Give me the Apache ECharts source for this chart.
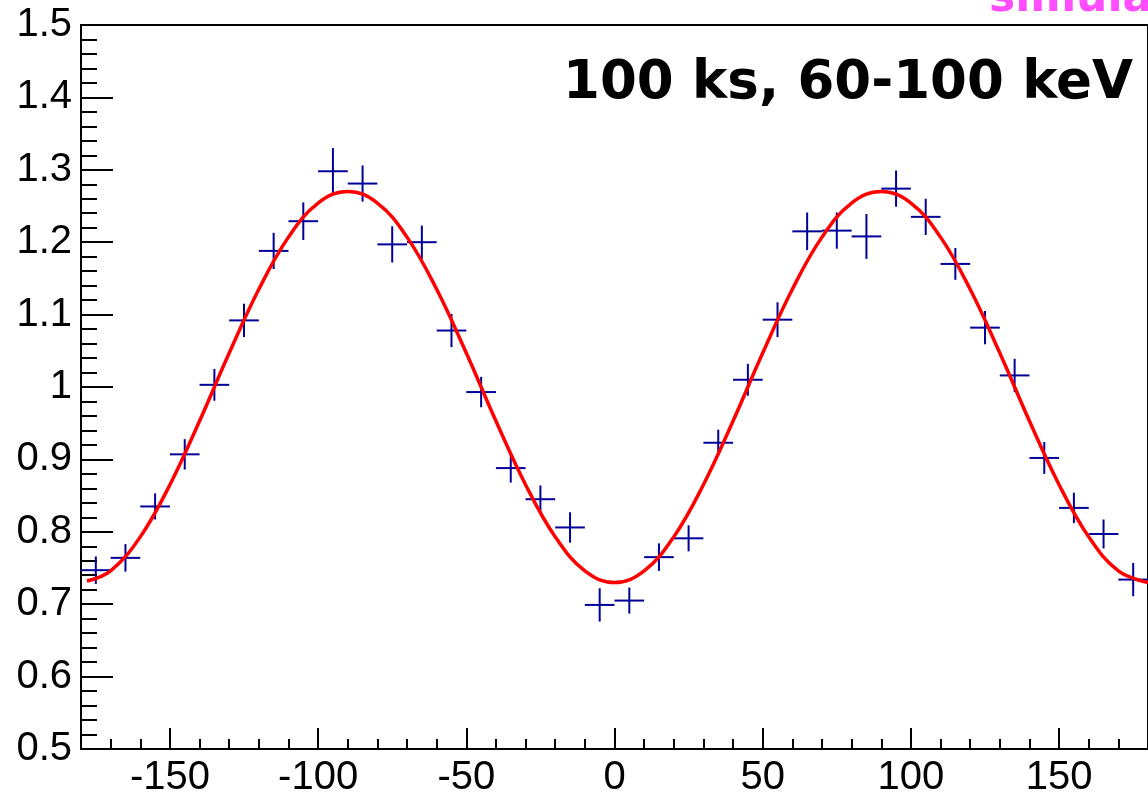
<!DOCTYPE html>
<html>
<head>
<meta charset="utf-8">
<script src="https://cdn.jsdelivr.net/npm/echarts@6/dist/echarts.min.js"></script>
<style>html,body{margin:0;padding:0;background:#fff;}#chart{width:1148px;height:798px;}</style>
</head>
<body>
<div id="chart"></div>
<script>
// Data points (bin centres, degrees), measured values and their errors
const binCenters = [-175,-165,-155,-145,-135,-125,-115,-105,-95,-85,-75,-65,-55,-45,-35,-25,-15,-5,5,15,25,35,45,55,65,75,85,95,105,115,125,135,145,155,165,175];
const values = [0.747,0.764,0.835,0.907,1.003,1.092,1.188,1.229,1.298,1.281,1.197,1.200,1.078,0.993,0.888,0.845,0.806,0.699,0.705,0.765,0.791,0.923,1.010,1.093,1.215,1.216,1.208,1.274,1.235,1.170,1.082,1.016,0.902,0.833,0.797,0.734];
const errors = [0.019,0.019,0.018,0.021,0.022,0.023,0.025,0.026,0.032,0.025,0.025,0.023,0.023,0.021,0.020,0.019,0.021,0.023,0.018,0.019,0.018,0.018,0.022,0.024,0.026,0.025,0.031,0.025,0.025,0.022,0.023,0.023,0.022,0.021,0.020,0.023];
const binHalfWidth = 5;
// Fit curve
const fitX = [-178,-170,-160,-150,-140,-130,-120,-110,-100,-90,-80,-70,-60,-50,-40,-30,-20,-10,0,10,20,30,40,50,60,70,80,90,100,110,120,130,140,150,160,170,180];
const fitY = [0.732,0.746,0.793,0.865,0.953,1.047,1.135,1.207,1.254,1.270,1.254,1.207,1.135,1.047,0.953,0.865,0.793,0.746,0.730,0.746,0.793,0.865,0.953,1.047,1.135,1.207,1.254,1.270,1.254,1.207,1.135,1.047,0.953,0.865,0.793,0.746,0.730];
// Axis ticks
const xMajorTicks = [-150,-100,-50,0,50,100,150];
const xMinorTicks = [-170,-160,-140,-130,-120,-110,-90,-80,-70,-60,-40,-30,-20,-10,10,20,30,40,60,70,80,90,110,120,130,140,160,170];
const titleText = '100 ks, 60-100 keV';
const cornerText = 'simulation';

const chart = echarts.init(document.getElementById('chart'), null, {renderer: 'canvas'});
const pts = binCenters.map((x, i) => [x, values[i], errors[i]]);
const fitData = fitX.map((x, i) => [x, fitY[i]]);
const labelFont = {fontFamily: 'Liberation Sans', fontSize: 40, color: '#000'};

const option = {
  animation: false,
  backgroundColor: '#fff',
  grid: {left: 81, top: 25, bottom: 48, right: -5, show: true, borderColor: '#000', borderWidth: 2, backgroundColor: 'transparent', containLabel: false},
  xAxis: [{
    type: 'value', min: -180, max: 180, position: 'bottom',
    axisLine: {show: true, onZero: false, lineStyle: {color: '#000', width: 2}},
    axisTick: {show: true, inside: true, length: 21, customValues: xMajorTicks, lineStyle: {color: '#000', width: 2}},
    axisLabel: Object.assign({show: true, margin: 9, customValues: xMajorTicks, formatter: v => String(v)}, labelFont),
    splitLine: {show: false}
  }, {
    type: 'value', min: -180, max: 180, position: 'bottom',
    axisLine: {show: false, onZero: false},
    axisTick: {show: true, inside: true, length: 10, customValues: xMinorTicks, lineStyle: {color: '#000', width: 2}},
    axisLabel: {show: false},
    splitLine: {show: false}
  }],
  yAxis: {
    type: 'value', min: 0.5, max: 1.5, interval: 0.1, position: 'left',
    axisLine: {show: true, onZero: false, lineStyle: {color: '#000', width: 2}},
    axisTick: {show: true, inside: true, length: 32, lineStyle: {color: '#000', width: 2}},
    minorTick: {show: true, splitNumber: 5, length: 16, lineStyle: {color: '#000', width: 2}},
    axisLabel: Object.assign({margin: 9, formatter: v => String(parseFloat(v.toFixed(1)))}, labelFont),
    splitLine: {show: false}, minorSplitLine: {show: false}
  },
  series: [{
    type: 'custom', xAxisIndex: 0, yAxisIndex: 0, data: pts, encode: {x: 0, y: 1}, z: 2,
    renderItem: function (params, api) {
      const x = api.value(0), y = api.value(1), e = api.value(2);
      const c = api.coord([x, y]);
      const l = api.coord([x - binHalfWidth, y]);
      const r = api.coord([x + binHalfWidth, y]);
      const t = api.coord([x, y + e]);
      const b = api.coord([x, y - e]);
      const st = {stroke: '#000099', lineWidth: 2};
      return {type: 'group', children: [
        {type: 'line', shape: {x1: l[0], y1: c[1], x2: r[0], y2: c[1]}, style: st},
        {type: 'line', shape: {x1: c[0], y1: t[1], x2: c[0], y2: b[1]}, style: st}
      ]};
    }
  }, {
    type: 'line', xAxisIndex: 0, data: fitData, smooth: 0.4, showSymbol: false, symbol: 'none', z: 3,
    lineStyle: {color: '#ff0000', width: 3.5}
  }],
  graphic: [{
    type: 'text', left: 563, top: 58, z: 10,
    style: {text: titleText, font: 'bold 53px "DejaVu Sans"', fill: '#000'}
  }, {
    type: 'text', left: 989, top: -22, z: 10,
    style: {text: cornerText, font: 'bold 44px "DejaVu Sans"', fill: '#ff4dff'}
  }]
};
chart.setOption(option);
</script>
</body>
</html>
